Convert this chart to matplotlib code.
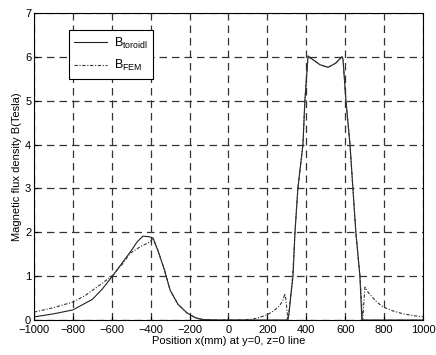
import matplotlib
matplotlib.use("Agg")
from matplotlib import pyplot as plt

plt.rcParams["font.family"] = ["Liberation Sans", "DejaVu Sans"]
plt.rcParams["mathtext.fontset"] = "custom"
plt.rcParams["mathtext.rm"] = "Liberation Sans"
plt.rcParams["mathtext.it"] = "Liberation Sans"

# B_toroid (solid)
x_toroid = [-1000, -900, -800, -700, -650, -600, -550, -500, -470, -440, -410,
            -388, -360, -330, -300, -260, -213, -170, -131, -60, 0, 100, 200,
            280, 300, 310, 322, 332, 342, 357, 383, 393, 409, 430, 470, 512,
            550, 584, 589, 604, 625, 640, 655, 676, 686, 700, 800, 900, 1000]
b_toroid = [0.07, 0.14, 0.23, 0.47, 0.7, 0.98, 1.28, 1.58, 1.78, 1.91, 1.9,
            1.87, 1.55, 1.15, 0.68, 0.36, 0.16, 0.05, 0.01, 0.0, 0.0, 0.0, 0.0,
            0.0, 0.0, 0.1, 0.6, 1.0, 2.0, 3.0, 4.0, 5.0, 6.02, 5.95, 5.82, 5.76,
            5.85, 6.0, 5.95, 5.0, 4.0, 3.0, 2.0, 1.0, 0.0, 0.0, 0.0, 0.0, 0.0]

# B_FEM (dashed)
x_fem = [-1000, -900, -800, -740, -676, -600, -550, -506, -450, -403, -388,
         -360, -330, -300, -260, -213, -170, -131, -60, 0, 60, 126, 160, 200,
         230, 262, 280, 290, 296, 302, 306, 314, 330, 342, 357, 383, 393, 409,
         430, 470, 512, 550, 584, 589, 604, 625, 640, 655, 676, 686, 690,
         702, 720, 760, 794, 850, 900, 950, 1000]
b_fem = [0.18, 0.28, 0.41, 0.55, 0.75, 1.0, 1.25, 1.52, 1.68, 1.78, 1.87,
         1.55, 1.15, 0.68, 0.36, 0.16, 0.05, 0.01, 0.0, 0.0, 0.0, 0.02, 0.06,
         0.12, 0.2, 0.32, 0.45, 0.6, 0.45, 0.15, 0.0, 0.3, 1.0, 2.0, 3.0, 4.0,
         5.0, 6.0, 5.95, 5.82, 5.76, 5.85, 6.0, 5.95, 5.0, 4.0, 3.0, 2.0,
         1.0, 0.3, 0.0, 0.75, 0.62, 0.42, 0.3, 0.2, 0.14, 0.1, 0.07]

x_ticks = [-1000, -800, -600, -400, -200, 0, 200, 400, 600, 800, 1000]
y_ticks = [0, 1, 2, 3, 4, 5, 6, 7]

fig = plt.figure(figsize=(4.36, 3.55), dpi=100)
ax = fig.add_axes([0.078, 0.0986, 0.892, 0.865])

ax.plot(x_toroid, b_toroid, color="#222222", lw=0.8, ls="-",
        label=r"B$_{\rm toroidl}$")
ax.plot(x_fem, b_fem, color="#333333", lw=0.8, ls=(0, (3, 1.5, 1, 1.5)),
        label=r"B$_{\rm FEM}$")

ax.set_xlim(-1000, 1000)
ax.set_ylim(0, 7)
ax.set_xticks(x_ticks)
ax.set_yticks(y_ticks)
ax.tick_params(direction="in", labelsize=8, length=3, pad=2)
ax.tick_params(axis="x", pad=3.5)
ax.grid(True, color="#333333", ls=(0, (6, 4)), lw=0.9)
for s in ax.spines.values():
    s.set_linewidth(0.8)

ax.set_xlabel("Position x(mm) at y=0, z=0 line", fontsize=8, labelpad=1)
ax.set_ylabel("Magnetic flux density B(Tesla)", fontsize=8, labelpad=2)

leg = ax.legend(loc="upper left", bbox_to_anchor=(0.0895, 0.945),
                borderaxespad=0, fontsize=9, frameon=True, fancybox=False,
                framealpha=1, edgecolor="black", handlelength=2.6,
                borderpad=0.45, labelspacing=0.6, handletextpad=0.55)
leg.get_frame().set_linewidth(0.8)

fig.savefig("out.png", dpi=100)
